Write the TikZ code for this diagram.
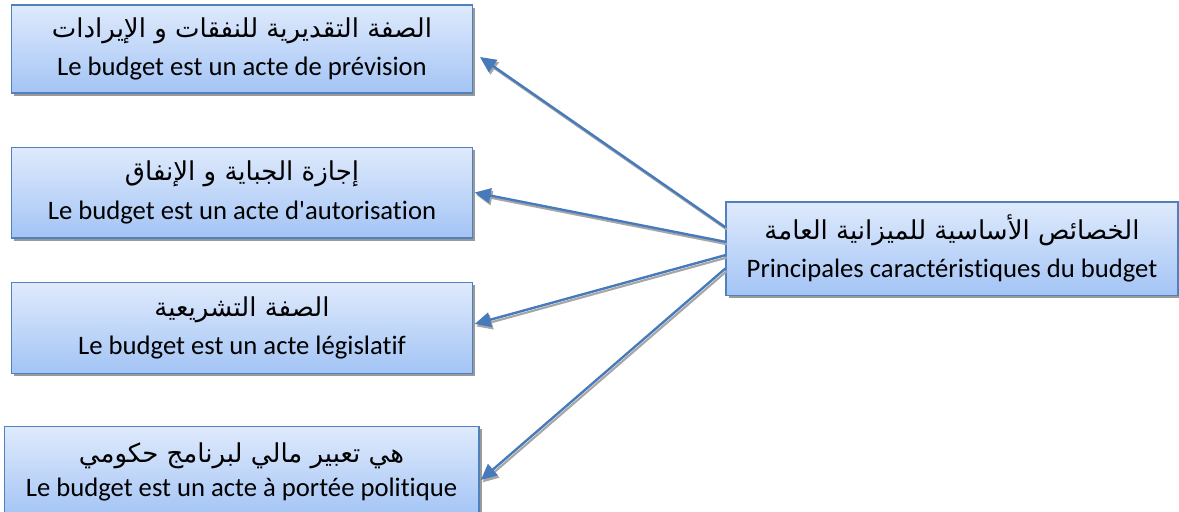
\documentclass[tikz,border=0pt]{standalone}
\usepackage{fontspec}
\setmainfont{Carlito}[Ligatures={CommonOff,TeXOff}]
\newfontfamily\arabe[Script=Arabic]{DejaVu Sans}
\TeXXeTstate=1
\usetikzlibrary{arrows.meta,shadows}
\definecolor{bordure}{RGB}{79,129,189}
\definecolor{haut}{RGB}{223,234,252}
\definecolor{bas}{RGB}{163,196,245}
\definecolor{fleche}{RGB}{70,122,186}
\tikzset{
  cadre/.style={draw=bordure,line width=1pt,top color=haut,bottom color=bas,align=center,
    minimum width=346pt,minimum height=66pt,inner sep=0pt,font=\fontsize{20}{29}\selectfont,
    drop shadow={shadow xshift=2pt,shadow yshift=-2pt,fill=black!40,opacity=1}},
  lien/.style={draw=fleche,line width=1.8pt,-{Triangle[length=12pt,width=11pt]},
    preaction={draw=black!35,line width=1.6pt,-{Triangle[length=12pt,width=11pt]},
      transform canvas={xshift=1.2pt,yshift=-1.8pt}}}
}
\newcommand{\ar}[1]{{\arabe\fontsize{19.5}{29}\selectfont\beginR #1\endR}}

\begin{document}
\begin{tikzpicture}[x=0.75pt,y=-0.75pt]
\useasboundingbox (0,0) rectangle (1179,511);
\clip (0,0) rectangle (1179,511);

\node[cadre] (prevision) at (242,49) {\ar{الصفة التقديرية للنفقات و الإيرادات}\\Le budget est un acte de prévision};
\node[cadre,minimum height=68pt] (autorisation) at (242,192.5) {\ar{إجازة الجباية و الإنفاق}\\Le budget est un acte d'autorisation};
\node[cadre,minimum height=68pt] (legislatif) at (242,328) {\ar{الصفة التشريعية}\\Le budget est un acte législatif};
\node[cadre,minimum width=356pt,minimum height=68pt,font=\fontsize{20}{25}\selectfont] (politique) at (241.5,472) {\ar{هي تعبير مالي لبرنامج حكومي}\\Le budget est un acte à portée politique};

\node[cadre,minimum width=339pt,minimum height=70pt] (centre) at (952,248.5) {\ar{الخصائص الأساسية للميزانية العامة}\\Principales caractéristiques du budget};

\draw[lien] ([yshift=16pt]centre.west) -- ([xshift=5pt,yshift=-6pt]prevision.east);
\draw[lien] ([yshift=5pt]centre.west) -- ([xshift=1pt]autorisation.east);
\draw[lien] ([yshift=-5pt]centre.west) -- ([xshift=1pt,yshift=3pt]legislatif.east);
\draw[lien] ([yshift=-15pt]centre.west) -- ([xshift=1pt,yshift=-6pt]politique.east);
\end{tikzpicture}
\end{document}
